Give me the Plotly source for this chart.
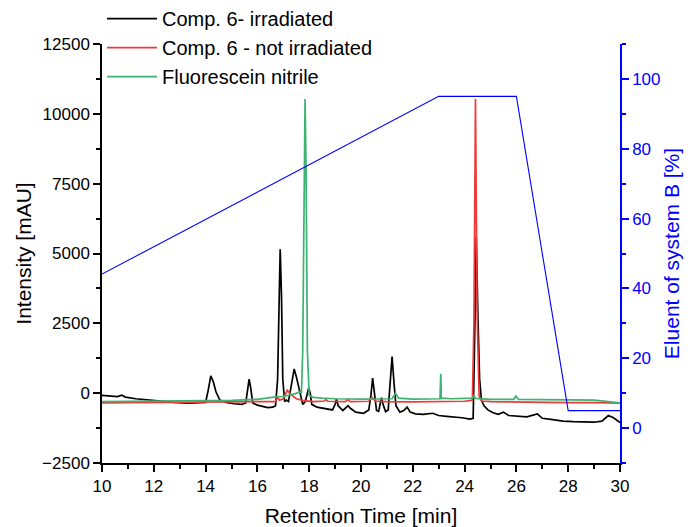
import plotly.graph_objects as go

# ---- Data ----
# Comp. 6 - irradiated (black)
t_irr = [10.00, 10.30, 10.60, 10.76, 10.90, 11.30, 11.80, 12.30, 12.80, 13.30, 13.70, 14.00,
         14.10, 14.20, 14.30, 14.40, 14.55, 14.80, 15.10, 15.40, 15.55, 15.62, 15.68, 15.74,
         15.82, 16.00, 16.20, 16.40, 16.60, 16.70, 16.78, 16.84, 16.88, 16.93, 16.98, 17.05,
         17.12, 17.20, 17.30, 17.42, 17.50, 17.58, 17.66, 17.75, 17.85, 17.93, 17.98, 18.04,
         18.10, 18.30, 18.60, 18.90, 19.00, 19.05, 19.12, 19.30, 19.50, 19.60, 19.80, 20.10,
         20.30, 20.38, 20.45, 20.52, 20.60, 20.68, 20.74, 20.79, 20.85, 20.95, 21.05, 21.12,
         21.20, 21.28, 21.35, 21.50, 21.65, 21.78, 21.90, 22.10, 22.40, 22.77, 23.00, 23.30,
         23.60, 23.90, 24.20, 24.33, 24.38, 24.45, 24.52, 24.58, 24.65, 24.75, 24.90, 25.10,
         25.30, 25.50, 25.70, 26.00, 26.40, 26.81, 27.00, 27.40, 27.80, 28.20, 28.60, 29.00,
         29.30, 29.55, 29.75, 30.00]
v_irr = [-80, -100, -120, -70, -140, -200, -250, -290, -330, -360, -350, -330,
         100, 620, 400, 50, -250, -330, -380, -400, -350, 200, 500, 200,
         -350, -430, -480, -520, -500, -450, 500, 3800, 5150, 3500, 500, -300,
         -250, -300, 200, 870, 600, 300, -100, -400, -300, 50, 180, 0,
         -400, -500, -560, -600, -400, -215, -450, -620, -450, -550, -680, -720,
         -600, -100, 537, -100, -620, -650, -350, -160, -400, -660, -600, 300,
         1310, 300, -450, -680, -620, -500, -680, -740, -760, -720, -800, -830,
         -850, -880, -930, -900, 1500, 5600, 2500, 500, -250, -450, -600, -700,
         -760, -680, -800, -830, -850, -740, -900, -950, -1000, -1020, -1040, -1040,
         -1000, -800, -880, -1050]

# Comp. 6 - not irradiated (red)
t_not = [10.0, 12.0, 14.0, 16.0, 16.70, 16.78, 16.85, 17.00, 17.15, 17.30, 17.50, 17.80,
         18.20, 18.59, 18.65, 18.72, 19.40, 19.49, 19.58, 20.30, 20.42, 20.55, 21.00, 22.00,
         23.00, 24.00, 24.30, 24.36, 24.42, 24.48, 24.56, 24.65, 25.00, 26.00, 27.00, 28.00,
         29.00, 30.00]
v_not = [-350, -340, -330, -310, -300, -150, -250, -200, 100, -50, -200, -270,
         -300, -280, -230, -290, -300, -230, -300, -290, -140, -280, -300, -310,
         -300, -290, -250, 2500, 10530, 3000, -100, -280, -300, -320, -330, -340,
         -340, -360]

# Fluorescein nitrile (green)
t_flu = [10.0, 12.0, 14.0, 15.0, 16.0, 16.70, 17.00, 17.30, 17.50, 17.62, 17.70, 17.75,
         17.80, 17.84, 17.88, 17.93, 18.00, 18.15, 18.50, 19.00, 20.00, 21.20, 21.33, 21.45,
         22.00, 23.05, 23.08, 23.10, 23.50, 24.30, 24.36, 24.42, 25.00, 25.90, 25.98, 26.08,
         27.00, 28.00, 29.00, 30.00]
v_flu = [-300, -290, -280, -260, -220, -130, -120, -60, -10, 50, 0, 1500,
         8000, 10530, 8000, 1500, -80, -150, -180, -200, -210, -200, 0, -180,
         -210, -200, 690, -180, -200, -180, -90, -190, -220, -220, -100, -220,
         -230, -240, -250, -350]

# Gradient: eluent of system B [%] (blue, right axis)
grad_t = [10.0, 23.0, 26.0, 28.0, 30.0]
grad_b = [44.1, 95.0, 95.0, 5.0, 5.0]

FONT = "Liberation Sans, Arial, sans-serif"

fig = go.Figure()
fig.add_trace(go.Scatter(x=t_irr, y=v_irr, mode="lines", name="Comp. 6- irradiated",
                         line=dict(color="#000000", width=1.7)))
fig.add_trace(go.Scatter(x=t_not, y=v_not, mode="lines", name="Comp. 6 - not irradiated",
                         line=dict(color="#F03A3A", width=1.7)))
fig.add_trace(go.Scatter(x=t_flu, y=v_flu, mode="lines", name="Fluorescein nitrile",
                         line=dict(color="#3CB371", width=1.7)))
fig.add_trace(go.Scatter(x=grad_t, y=grad_b, mode="lines", yaxis="y2", showlegend=False,
                         line=dict(color="#0000FF", width=1.1)))

# page body adds an 8 px offset, so the figure is sized/placed to compensate
fig.update_layout(
    width=684, height=519,
    margin=dict(l=94, r=72, t=36, b=64, autoexpand=False),
    plot_bgcolor="white", paper_bgcolor="white",
    font=dict(family=FONT, size=17, color="black"),
    showlegend=True,
    legend=dict(x=0.0, y=1.107, xanchor="left", yanchor="top",
                bgcolor="rgba(0,0,0,0)", borderwidth=0,
                font=dict(family=FONT, size=20, color="black"),
                itemwidth=50, tracegroupgap=0),
    xaxis=dict(range=[10, 30], tick0=10, dtick=2, ticks="outside", ticklen=7, tickwidth=1.5,
               tickcolor="black", showline=True, linecolor="black", linewidth=1.5,
               showgrid=False, zeroline=False, tickformat="d",
               minor=dict(dtick=1, ticks="outside", ticklen=4, tickwidth=1.5, tickcolor="black",
                          showgrid=False),
               title=dict(text="Retention Time [min]", font=dict(family=FONT, size=21),
                          standoff=14)),
    yaxis=dict(range=[-2500, 12500], tick0=0, dtick=2500, ticks="outside", ticklen=7,
               tickwidth=1.5, tickcolor="black", showline=True, linecolor="black", linewidth=1.5,
               showgrid=False, zeroline=False, tickformat="d",
               minor=dict(dtick=1250, ticks="outside", ticklen=4, tickwidth=1.5,
                          tickcolor="black", showgrid=False),
               title=dict(text="Intensity [mAU]", font=dict(family=FONT, size=21), standoff=5)),
    yaxis2=dict(overlaying="y", side="right", anchor="x", range=[-10, 110], tick0=0, dtick=20,
                ticks="outside", ticklen=7, tickwidth=1.5, tickcolor="#0000FF",
                tickfont=dict(color="#0000FF", family=FONT, size=17), tickformat="d",
                showline=True, linecolor="#0000FF", linewidth=1.5,
                showgrid=False, zeroline=False,
                minor=dict(dtick=10, ticks="outside", ticklen=4, tickwidth=1.5,
                           tickcolor="#0000FF", showgrid=False),
                title=dict(text="Eluent of system B [%]",
                           font=dict(family=FONT, size=21, color="#0000FF"), standoff=5)),
)

fig.write_html("out.html")
